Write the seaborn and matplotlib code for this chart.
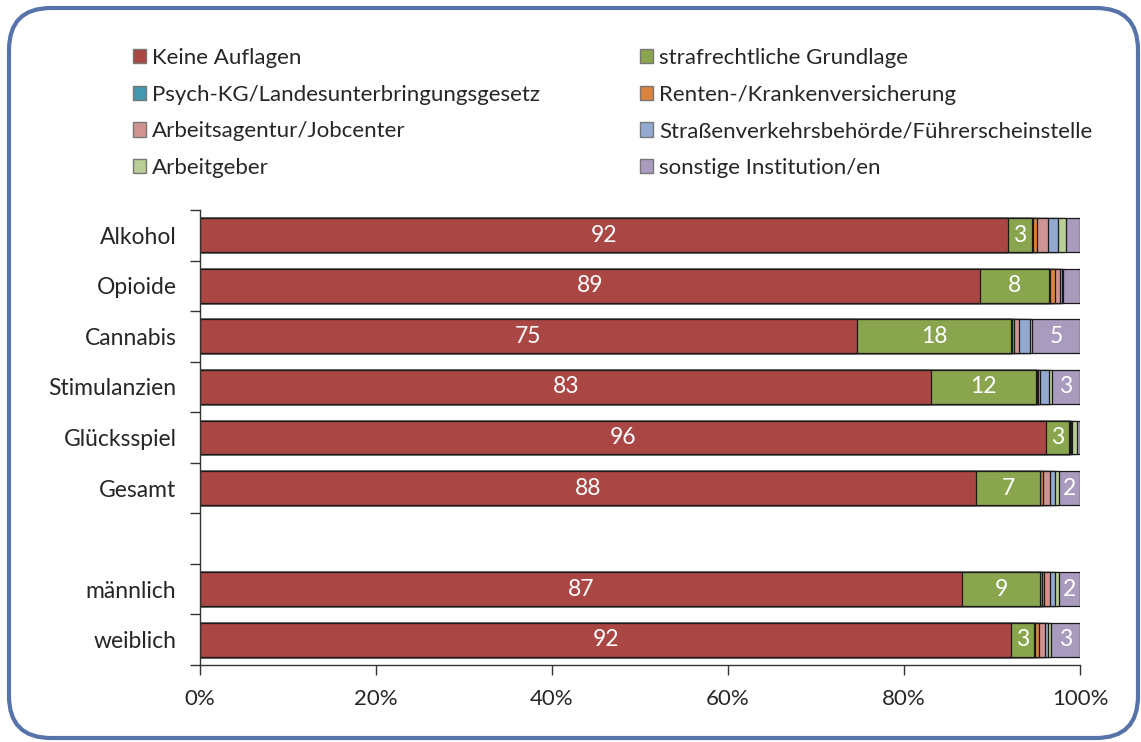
#!/usr/bin/env python3
"""Stacked bar chart: Auflagen nach Hauptdiagnose und Geschlecht
"""

import numpy as np
import pandas as pd
import matplotlib
matplotlib.use("Agg")
import matplotlib.pyplot as plt
from matplotlib.patches import FancyBboxPatch, Patch
import seaborn as sns


categories = ["Alkohol", "Opioide", "Cannabis", "Stimulanzien", "Glücksspiel",
              "Gesamt", "männlich", "weiblich"]
# empty slot between Gesamt and männlich
axis_order = categories[:6] + [" "] + categories[6:]

institutions = ["Keine Auflagen", "strafrechtliche Grundlage",
                "Psych-KG/Landesunterbringungsgesetz", "Renten-/Krankenversicherung",
                "Arbeitsagentur/Jobcenter", "Straßenverkehrsbehörde/Führerscheinstelle",
                "Arbeitgeber", "sonstige Institution/en"]

keine = [91.8, 88.6, 74.6, 83.1, 96.1, 88.2, 86.6, 92.2]
straf = [2.7, 7.9, 17.6, 11.9, 2.6, 7.2, 8.9, 2.6]
psych = [0.1, 0.1, 0.1, 0.1, 0.1, 0.1, 0.15, 0.1]
renten = [0.45, 0.6, 0.2, 0.1, 0.0, 0.3, 0.3, 0.4]
arbeitsagentur = [1.3, 0.5, 0.55, 0.3, 0.2, 0.75, 0.65, 0.7]
strassenverkehr = [1.1, 0.2, 1.3, 1.0, 0.1, 0.65, 0.55, 0.4]
arbeitgeber = [1.0, 0.2, 0.2, 0.3, 0.6, 0.4, 0.5, 0.3]
sonstige = [1.55, 1.9, 5.45, 3.2, 0.3, 2.4, 2.35, 3.3]

colors = ["#AA4643", "#89A54E", "#4198AF", "#DB843D",
          "#D19392", "#93A9CF", "#B9CD96", "#A99BBD"]

x_ticks = [0, 20, 40, 60, 80, 100]


def main():
    sns.set_style("ticks")
    plt.rcParams["font.family"] = ["Lato", "DejaVu Sans"]

    series = [keine, straf, psych, renten, arbeitsagentur,
              strassenverkehr, arbeitgeber, sonstige]
    vals = np.array(series).T          # rows: categories, cols: institutions
    cum = vals.cumsum(axis=1)

    fig = plt.figure(figsize=(11.41, 7.42), dpi=100)
    ax = fig.add_axes([0.1753, 0.1038, 0.7713, 0.6132])

    # stacked bars: draw cumulative totals from the outermost segment inwards
    for i in reversed(range(len(institutions))):
        df = pd.DataFrame({"cat": categories, "val": cum[:, i]})
        sns.barplot(data=df, x="val", y="cat", order=axis_order, orient="h",
                    color=colors[i], saturation=1, width=0.67,
                    edgecolor="#1a1a1a", linewidth=0.9, ax=ax)

    # value labels
    for r, cat in enumerate(categories):
        pos = axis_order.index(cat)
        for i in range(len(institutions)):
            v = vals[r, i]
            if v >= 2:
                ax.text(cum[r, i] - v / 2, pos, f"{round(v):d}", color="white",
                        ha="center", va="center", fontsize=16.5)

    ax.set_xlim(0, 100)
    ax.set_ylim(len(axis_order) - 0.5, -0.5)
    ax.set_xticks(x_ticks)
    ax.set_xticklabels([f"{t}%" for t in x_ticks])
    ax.set_xlabel("")
    ax.set_ylabel("")
    ax.set_yticks(range(len(axis_order)))
    ax.set_yticklabels(axis_order)
    ax.set_yticks(np.arange(-0.5, len(axis_order)), minor=True)
    ax.tick_params(axis="y", which="major", length=0, pad=17, labelsize=16.5)
    ax.tick_params(axis="y", which="minor", length=7, width=1, color="#333333")
    ax.tick_params(axis="x", which="major", length=7, width=1, color="#333333",
                   labelsize=16, pad=10)
    for side in ["top", "right"]:
        ax.spines[side].set_visible(False)
    for side in ["left", "bottom"]:
        ax.spines[side].set_color("#333333")
        ax.spines[side].set_linewidth(1)

    handles = [Patch(facecolor=c, edgecolor="#777777", linewidth=1) for c in colors]
    common = dict(frameon=False, fontsize=16, handlelength=0.6, handleheight=0.6,
                  handletextpad=0.25, labelspacing=0.75, borderaxespad=0, borderpad=0)
    fig.legend(handles[0::2], institutions[0::2], loc="upper left",
               bbox_to_anchor=(133 / 1141, 1 - 48 / 742), **common)
    fig.legend(handles[1::2], institutions[1::2], loc="upper left",
               bbox_to_anchor=(640 / 1141, 1 - 48 / 742), **common)

    # rounded frame around the chart
    frame = FancyBboxPatch((0.09, 0.04), 11.29, 7.30,
                           boxstyle="round,pad=0,rounding_size=0.42",
                           transform=fig.dpi_scale_trans, facecolor="none",
                           edgecolor="#5674A9", linewidth=3, clip_on=False)
    fig.add_artist(frame)

    fig.savefig("out.png", dpi=100)


if __name__ == "__main__":
    main()
